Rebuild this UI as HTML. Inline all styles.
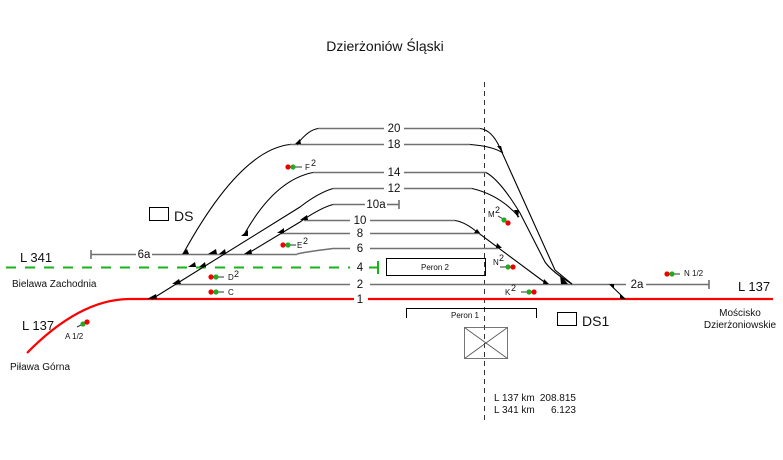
<!DOCTYPE html>
<html><head><meta charset="utf-8"><style>
body{margin:0;background:#fff}
svg{display:block}
text{font-family:"Liberation Sans",sans-serif;fill:#111}
</style></head><body>
<svg width="783" height="460" viewBox="0 0 783 460" xmlns="http://www.w3.org/2000/svg">
<text x="385" y="51" font-size="14" text-anchor="middle">Dzierżoniów Śląski</text>
<line x1="484.5" y1="82" x2="484.5" y2="422" stroke="#333" stroke-width="1" stroke-dasharray="5,4"/>
<g stroke="#707070" stroke-width="1.6" fill="none">
<line x1="318" y1="128.5" x2="384" y2="128.5"/><line x1="404" y1="128.5" x2="480" y2="128.5"/>
<line x1="290" y1="144.5" x2="384" y2="144.5"/><line x1="404" y1="144.5" x2="470" y2="144.5"/>
<line x1="313" y1="172.5" x2="384" y2="172.5"/><line x1="404" y1="172.5" x2="486" y2="172.5"/>
<line x1="333" y1="188.5" x2="384" y2="188.5"/><line x1="404" y1="188.5" x2="472" y2="188.5"/>
<line x1="333" y1="204.5" x2="365" y2="204.5"/><line x1="387" y1="204.5" x2="399" y2="204.5"/>
<line x1="399" y1="200" x2="399" y2="209"/>
<line x1="304" y1="220.5" x2="350" y2="220.5"/><line x1="370" y1="220.5" x2="455" y2="220.5"/>
<line x1="281" y1="233.5" x2="350" y2="233.5"/><line x1="370" y1="233.5" x2="478" y2="233.5"/>
<path d="M297,254 Q305,252 333,248.5 L350,248.5"/><line x1="370" y1="248.5" x2="498" y2="248.5"/>
<line x1="91" y1="254.5" x2="136" y2="254.5"/><line x1="152" y1="254.5" x2="297" y2="254.5"/>
<line x1="91" y1="250" x2="91" y2="259"/>
<line x1="175" y1="284.5" x2="350" y2="284.5"/><line x1="370" y1="284.5" x2="626" y2="284.5"/>
<line x1="646" y1="284.5" x2="709" y2="284.5"/><line x1="709" y1="280" x2="709" y2="289"/>
</g>
<line x1="6" y1="267.5" x2="350" y2="267.5" stroke="#1ab21a" stroke-width="2" stroke-dasharray="10,9"/>
<line x1="369" y1="267.5" x2="377" y2="267.5" stroke="#1ab21a" stroke-width="2"/>
<line x1="378" y1="261" x2="378" y2="274" stroke="#1ab21a" stroke-width="2"/>
<path d="M27,353 Q80,299 130,299 L354,299" stroke="#f00" stroke-width="2.2" fill="none"/>
<line x1="368" y1="299" x2="773" y2="299" stroke="#f00" stroke-width="2.2"/>
<g stroke="#000" stroke-width="1.1" fill="none">
<path d="M152,299 L300,207 Q318,193 333,188.5"/>
<path d="M247,254 L300,222 Q320,208 333,204.5"/>
<path d="M245,233 Q275,180 313,172.5"/>
<path d="M183,254 Q240,150 290,144.5"/>
<path d="M297,144.5 Q308,130 318,128.5"/>
<path d="M480,128.5 Q492,130 500,148 L555,270 L572,284"/>
<path d="M470,144.5 Q492,146 503,153"/>
<path d="M486,172.5 Q500,180 520,213 L545,262 Q552,272 572,284"/>
<path d="M472,188.5 Q500,195 519,217"/>
<path d="M455,220.5 Q465,222 477,232 L547,284"/>
<path d="M610,284.5 L625,299"/>
</g>
<g fill="#000">
<polygon points="147,299 157,299 156,294"/>
<polygon points="172,284 181,284 179,279"/>
<polygon points="188,267 196,267 195,262"/>
<polygon points="199,267 206,267 205,262"/>
<polygon points="208,254 217,254 216,249"/>
<polygon points="219,254 226,254 225,249"/>
<polygon points="244,254 252,254 251,249"/>
<polygon points="182,254 189,254 187,249"/>
<polygon points="241,236 248,236 248,230"/>
<polygon points="277,233 284,233 284,228"/>
<polygon points="300,220 308,220 307,215"/>
<polygon points="295,144 301,144 300,139"/>
<polygon points="497,146 503,153 501,146"/>
<polygon points="514,210 518,218 519,210"/>
<polygon points="474,233 480,233 477,229"/>
<polygon points="496,248 502,248 497,243"/>
<polygon points="543,284 549,284 544,279"/>
<polygon points="561,284 568,284 560,275"/>
<polygon points="609,284 614,284 614,289"/>
<polygon points="620,299 626,299 620,294"/>
</g>
<g font-size="11.5" text-anchor="middle">
<text x="394" y="132">20</text><text x="394" y="148">18</text><text x="394" y="176">14</text><text x="394" y="192">12</text>
<text x="376" y="208">10a</text><text x="360" y="224">10</text><text x="360" y="237">8</text><text x="360" y="252">6</text>
<text x="360" y="271">4</text><text x="360" y="288">2</text><text x="360" y="303">1</text>
<text x="144" y="258">6a</text><text x="637" y="288">2a</text>
</g>
<g stroke="#333" stroke-width="1">
<line x1="293" y1="167" x2="302" y2="167"/><line x1="288" y1="245" x2="296" y2="245"/>
<line x1="216" y1="277" x2="224" y2="277"/><line x1="216" y1="292" x2="224" y2="292"/>
<line x1="77" y1="327" x2="83" y2="324"/><line x1="498" y1="216" x2="505" y2="220"/>
<line x1="500" y1="267" x2="507" y2="267"/><line x1="521" y1="292" x2="528" y2="292"/>
<line x1="672" y1="274" x2="680" y2="274"/>
</g>
<g>
<circle cx="288" cy="167" r="2.6" fill="#e00"/><circle cx="293" cy="167" r="2.6" fill="#2a2"/>
<circle cx="283" cy="245" r="2.6" fill="#e00"/><circle cx="288" cy="245" r="2.6" fill="#2a2"/>
<circle cx="211" cy="277" r="2.6" fill="#e00"/><circle cx="216" cy="277" r="2.6" fill="#2a2"/>
<circle cx="211" cy="292" r="2.6" fill="#e00"/><circle cx="216" cy="292" r="2.6" fill="#2a2"/>
<circle cx="83" cy="324" r="2.6" fill="#2a2"/><circle cx="87" cy="322" r="2.6" fill="#e00"/>
<circle cx="504" cy="220" r="2.6" fill="#2a2"/><circle cx="508" cy="223" r="2.6" fill="#e00"/>
<circle cx="508" cy="267" r="2.6" fill="#2a2"/><circle cx="513" cy="267" r="2.6" fill="#e00"/>
<circle cx="529" cy="292" r="2.6" fill="#2a2"/><circle cx="534" cy="292" r="2.6" fill="#e00"/>
<circle cx="667" cy="274" r="2.6" fill="#e00"/><circle cx="672" cy="274" r="2.6" fill="#2a2"/>
</g>
<g font-size="8">
<text x="305" y="170">F</text><text x="311" y="166" font-size="9">2</text>
<text x="297" y="248">E</text><text x="303" y="244" font-size="9">2</text>
<text x="228" y="280">D</text><text x="234" y="277" font-size="9">2</text>
<text x="228" y="295">C</text>
<text x="65" y="339">A 1/2</text>
<text x="488" y="217">M</text><text x="495" y="213" font-size="9">2</text>
<text x="493" y="265">N</text><text x="499" y="261" font-size="9">2</text>
<text x="505" y="295">K</text><text x="511" y="291" font-size="9">2</text>
<text x="684" y="276">N 1/2</text>
</g>
<g fill="none" stroke="#000" stroke-width="1">
<rect x="149.5" y="207.5" width="19" height="13"/>
<rect x="557.5" y="312.5" width="19" height="13"/>
<rect x="386.5" y="258.5" width="99" height="17"/>
<path d="M406.5,318 L406.5,308.5 L536.5,308.5 L536.5,318"/>
</g>
<g stroke="#555" stroke-width="0.8" fill="none">
<rect x="464.5" y="327.5" width="43" height="31"/>
<line x1="464.5" y1="327.5" x2="507.5" y2="358.5"/><line x1="507.5" y1="327.5" x2="464.5" y2="358.5"/>
</g>
<text x="174" y="221" font-size="14">DS</text>
<text x="582" y="326" font-size="14">DS1</text>
<text x="435" y="270" font-size="8" text-anchor="middle">Peron 2</text>
<text x="465" y="318" font-size="8" text-anchor="middle">Peron 1</text>
<text x="20" y="262" font-size="13">L 341</text>
<text x="12" y="287" font-size="10">Bielawa Zachodnia</text>
<text x="22" y="330" font-size="13">L 137</text>
<text x="10" y="370" font-size="10">Piława Górna</text>
<text x="738" y="291" font-size="13">L 137</text>
<text x="740" y="316" font-size="10" text-anchor="middle">Mościsko</text>
<text x="740" y="328" font-size="10" text-anchor="middle">Dzierżoniowskie</text>
<text x="494" y="401" font-size="10">L 137 km</text><text x="576" y="401" font-size="10" text-anchor="end">208.815</text>
<text x="494" y="413" font-size="10">L 341 km</text><text x="576" y="413" font-size="10" text-anchor="end">6.123</text>
</svg>
</body></html>
